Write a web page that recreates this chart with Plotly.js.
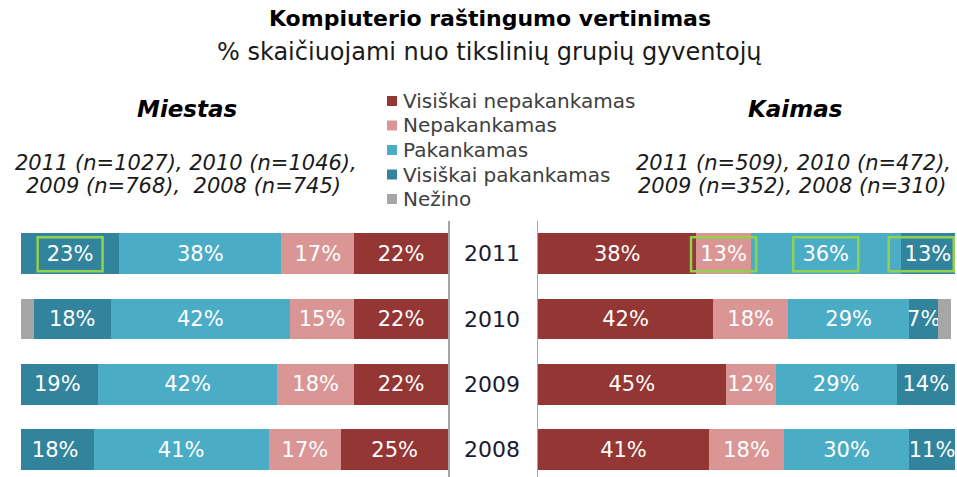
<!DOCTYPE html>
<html>
<head>
<meta charset="utf-8">
<script src="https://cdn.plot.ly/plotly-3.0.1.min.js"></script>
<style>html,body{margin:0;padding:0;background:#fff;}#chart{width:957px;height:477px;}</style>
</head>
<body>
<div id="chart"></div>
<script>
// ---- data ----
const years = ['2011', '2010', '2009', '2008'];
const seriesNames = ['Visiškai nepakankamas', 'Nepakankamas', 'Pakankamas', 'Visiškai pakankamas', 'Nežino'];
const seriesColors = ['#943634', '#D99694', '#4BACC6', '#31849B', '#A6A6A6'];

// Miestas (city)
const miestasVisiskaiNepak = [22, 22, 22, 25];
const miestasNepak = [17, 15, 18, 17];
const miestasPak = [38, 42, 42, 41];
const miestasVisiskaiPak = [23, 18, 19, 18];
const miestasNezino = [0, 3, 0, 0];

// Kaimas (village)
const kaimasVisiskaiNepak = [38, 42, 45, 41];
const kaimasNepak = [13, 18, 12, 18];
const kaimasPak = [36, 29, 29, 30];
const kaimasVisiskaiPak = [13, 7, 14, 11];
const kaimasNezino = [0, 3, 0, 0];

const titleText = 'Kompiuterio raštingumo vertinimas';
const subtitleText = '% skaičiuojami nuo tikslinių grupių gyventojų';
const miestasLabel = 'Miestas';
const kaimasLabel = 'Kaimas';
const miestasN = ['2011 (n=1027), 2010 (n=1046),', '2009 (n=768),\u00a0 2008 (n=745)'];
const kaimasN = ['2011 (n=509), 2010 (n=472),', '2009 (n=352), 2008 (n=310)'];

// highlighted labels (panel, series index, year index)
const highlights = [
  {panel: 'miestas', series: 3, year: 0},
  {panel: 'kaimas', series: 1, year: 0},
  {panel: 'kaimas', series: 2, year: 0},
  {panel: 'kaimas', series: 3, year: 0}
];

// ---- build ----
const W = 957, H = 477;
const px = v => v / W;
const py = v => 1 - v / H;
const FONT = 'DejaVu Sans, Verdana, sans-serif';

const miestasSeries = [miestasVisiskaiNepak, miestasNepak, miestasPak, miestasVisiskaiPak, miestasNezino];
const kaimasSeries = [kaimasVisiskaiNepak, kaimasNepak, kaimasPak, kaimasVisiskaiPak, kaimasNezino];

const traces = [];
function addPanel(series, xa, ya) {
  series.forEach((vals, i) => {
    traces.push({
      type: 'bar', orientation: 'h',
      y: years, x: vals,
      xaxis: xa, yaxis: ya,
      name: seriesNames[i],
      marker: {color: seriesColors[i], line: {width: 0}},
      text: i === 4 ? vals.map(() => '') : vals.map(v => v + '%'),
      textposition: 'inside',
      insidetextanchor: 'middle',
      constraintext: 'none',
      textangle: 0,
      textfont: {family: FONT, size: 21, color: '#ffffff'},
      hoverinfo: 'skip',
      showlegend: false,
      cliponaxis: true
    });
  });
}
addPanel(miestasSeries, 'x', 'y');
addPanel(kaimasSeries, 'x2', 'y2');

const shapes = [];
const annotations = [];

// green highlight boxes
highlights.forEach(h => {
  const ser = h.panel === 'miestas' ? miestasSeries : kaimasSeries;
  let start = 0;
  for (let k = 0; k < h.series; k++) start += ser[k][h.year];
  const val = ser[h.series][h.year];
  const half = h.panel === 'miestas' ? 7.6 : 7.8;
  let c = start + val / 2;
  c = Math.min(c, 100 - half - 0.3);
  shapes.push({
    type: 'rect', xref: h.panel === 'miestas' ? 'x' : 'x2', yref: h.panel === 'miestas' ? 'y' : 'y2',
    x0: c - half, x1: c + half, y0: h.year - 0.25, y1: h.year + 0.27,
    line: {color: '#92D050', width: 2.5}, fillcolor: 'rgba(0,0,0,0)'
  });
});

// legend (manual)
const legendY = [101, 125.5, 150, 174.5, 199];
seriesNames.forEach((n, i) => {
  shapes.push({
    type: 'rect', xref: 'paper', yref: 'paper',
    x0: px(387), x1: px(397), y0: py(legendY[i] + 5), y1: py(legendY[i] - 5),
    line: {width: 0}, fillcolor: seriesColors[i]
  });
  annotations.push({
    xref: 'paper', yref: 'paper', x: px(401), y: py(legendY[i]),
    xanchor: 'left', yanchor: 'middle', showarrow: false,
    text: n, font: {family: FONT, size: 20, color: '#404040'}
  });
});

// subtitle
annotations.push({
  xref: 'paper', yref: 'paper', x: px(490), y: py(52), xanchor: 'center', yanchor: 'middle',
  showarrow: false, text: subtitleText, font: {family: FONT, size: 24, color: '#1a1a1a'}
});
// panel titles
annotations.push({
  xref: 'paper', yref: 'paper', x: px(187), y: py(109), xanchor: 'center', yanchor: 'middle',
  showarrow: false, text: '<b><i>' + miestasLabel + '</i></b>', font: {family: FONT, size: 23, color: '#000'}
});
annotations.push({
  xref: 'paper', yref: 'paper', x: px(795), y: py(109), xanchor: 'center', yanchor: 'middle',
  showarrow: false, text: '<b><i>' + kaimasLabel + '</i></b>', font: {family: FONT, size: 23, color: '#000'}
});
const nY = [162.5, 186];
const mX = [186, 183];
const kX = [793, 792];
miestasN.forEach((t, i) => annotations.push({
  xref: 'paper', yref: 'paper', x: px(mX[i]), y: py(nY[i]), xanchor: 'center', yanchor: 'middle',
  showarrow: false, text: '<i>' + t + '</i>', font: {family: FONT, size: 21, color: '#1a1a1a'}
}));
kaimasN.forEach((t, i) => annotations.push({
  xref: 'paper', yref: 'paper', x: px(kX[i]), y: py(nY[i]), xanchor: 'center', yanchor: 'middle',
  showarrow: false, text: '<i>' + t + '</i>', font: {family: FONT, size: 21, color: '#1a1a1a'}
}));

const yDomain = [0, (H - 221) / H];
const yRange = [3.42, -0.5];

const layout = {
  width: W, height: H,
  margin: {l: 0, r: 0, t: 0, b: 0, pad: 0},
  paper_bgcolor: '#ffffff', plot_bgcolor: 'rgba(0,0,0,0)',
  barmode: 'stack', bargap: 0.38,
  showlegend: false,
  title: {
    text: '<b>' + titleText + '</b>', x: px(490), xanchor: 'center', xref: 'paper',
    y: py(18), yanchor: 'middle', yref: 'paper',
    font: {family: FONT, size: 22, color: '#000'}
  },
  xaxis: {domain: [px(21), px(448)], range: [100, 0], showgrid: false, zeroline: false,
          showticklabels: false, showline: false, fixedrange: true},
  xaxis2: {domain: [px(538), px(955)], range: [0, 100], showgrid: false, zeroline: false,
           showticklabels: false, showline: false, fixedrange: true},
  yaxis: {domain: yDomain, anchor: 'x', side: 'right', type: 'category',
          categoryorder: 'array', categoryarray: years, range: yRange,
          showline: true, linecolor: '#A6A6A6', linewidth: 1.5, showgrid: false, zeroline: false,
          ticks: 'outside', ticklen: 10, tickcolor: 'rgba(0,0,0,0)',
          tickfont: {family: FONT, size: 22, color: '#1a1a33'}, fixedrange: true},
  yaxis2: {domain: yDomain, anchor: 'x2', side: 'left', type: 'category',
           categoryorder: 'array', categoryarray: years, range: yRange,
           showline: true, linecolor: '#A6A6A6', linewidth: 1.5, showgrid: false, zeroline: false,
           showticklabels: false, ticks: '', fixedrange: true},
  shapes: shapes,
  annotations: annotations,
  font: {family: FONT}
};

Plotly.newPlot('chart', traces, layout, {displayModeBar: false, staticPlot: true});
</script>
</body>
</html>
